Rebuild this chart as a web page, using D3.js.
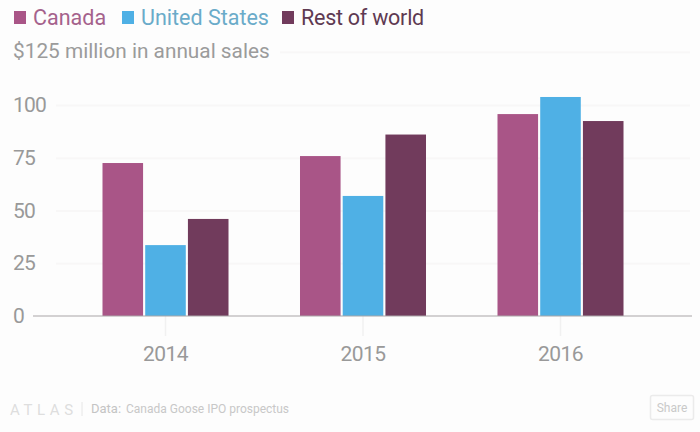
<!DOCTYPE html>
<html>
<head>
<meta charset="utf-8">
<script src="https://cdnjs.cloudflare.com/ajax/libs/d3/7.8.5/d3.min.js"></script>
<style>
  html, body { margin: 0; padding: 0; background: #fdfdfd; }
  svg { display: block; }
  text { font-family: Roboto, "Noto Sans", sans-serif; }
</style>
</head>
<body>
<script>
  var years = ["2014", "2015", "2016"];
  var seriesNames = ["Canada", "United States", "Rest of world"];
  var canada = [72.5, 75.8, 95.7];
  var unitedStates = [33.6, 56.9, 103.8];
  var restOfWorld = [46, 86, 92.4];
  var yTicks = [0, 25, 50, 75, 100];

  var seriesValues = [canada, unitedStates, restOfWorld];
  var barColors = ["#a95587", "#4fb0e5", "#713b5c"];
  var legendText = ["#a5628c", "#6aabc9", "#5f3a52"];

  var width = 700,
    height = 432;

  var svg = d3.select("body").append("svg")
    .attr("width", width)
    .attr("height", height);

  var y = d3.scaleLinear().domain([0, 125]).range([316, 52.25]);

  // one band per year, then one band per series inside it
  var x = d3.scaleBand().domain(years).range([66.75, 659.25]).paddingInner(0.362).paddingOuter(0.181);
  var x1 = d3.scaleBand().domain(seriesNames).range([0, x.bandwidth()]).paddingInner(0.05);

  // y gridlines, with the zero line handled separately
  var yAxis = d3.axisLeft(y)
    .tickValues(yTicks)
    .tickSize(-(690 - 56))
    .tickPadding(6);

  var gy = svg.append("g")
    .attr("transform", "translate(56,0)")
    .call(yAxis);
  gy.select(".domain").remove();
  gy.selectAll("line").attr("stroke", "#f8f7f7").attr("stroke-width", 2);
  gy.selectAll(".tick").filter(function(d) { return d === 0; }).select("line").remove();
  gy.selectAll("text")
    .attr("x", -43)
    .attr("text-anchor", "start")
    .attr("fill", "#999999")
    .style("font-size", "21px")
    .style("letter-spacing", "-0.8px")
    .style("font-family", "Roboto, sans-serif");

  // top gridline sits next to the subtitle
  svg.append("line")
    .attr("x1", 280).attr("x2", 690)
    .attr("y1", y(125)).attr("y2", y(125))
    .attr("stroke", "#f8f7f7").attr("stroke-width", 2);

  // bars
  var groups = svg.selectAll(".year")
    .data(years)
    .enter().append("g")
    .attr("class", "year")
    .attr("transform", function(d) { return "translate(" + x(d) + ",0)"; });

  groups.selectAll("rect")
    .data(function(d, i) {
      return seriesNames.map(function(name, j) {
        return { name: name, value: seriesValues[j][i], color: barColors[j] };
      });
    })
    .enter().append("rect")
    .attr("x", function(d) { return x1(d.name); })
    .attr("y", function(d) { return y(d.value); })
    .attr("width", x1.bandwidth())
    .attr("height", function(d) { return y(0) - y(d.value); })
    .attr("fill", function(d) { return d.color; });

  // x axis
  var xAxis = d3.axisBottom(x).tickSize(20).tickPadding(10);
  var gx = svg.append("g")
    .attr("transform", "translate(0,316)")
    .call(xAxis);
  gx.select(".domain").remove();
  gx.selectAll("line").attr("stroke", "#f1f1f1").attr("stroke-width", 1.5);
  gx.selectAll("text")
    .attr("fill", "#999999")
    .style("font-size", "21px")
    .style("letter-spacing", "-0.6px")
    .style("font-family", "Roboto, sans-serif");

  svg.append("line")
    .attr("x1", 33).attr("x2", 692)
    .attr("y1", y(0)).attr("y2", y(0))
    .attr("stroke", "#aaa6a8").attr("stroke-width", 1.2);

  // legend
  var legendX = [14, 122, 282];
  var legend = svg.selectAll(".legend")
    .data(seriesNames)
    .enter().append("g")
    .attr("class", "legend")
    .attr("transform", function(d, i) { return "translate(" + legendX[i] + ",0)"; });
  legend.append("rect")
    .attr("y", 11).attr("width", 12).attr("height", 13)
    .attr("fill", function(d, i) { return barColors[i]; });
  legend.append("text")
    .attr("x", 19).attr("y", 24.5)
    .attr("fill", function(d, i) { return legendText[i]; })
    .style("font-size", "21.5px")
    .style("letter-spacing", function(d, i) { return i === 2 ? "-0.25px" : "0"; })
    .text(function(d) { return d; });

  // subtitle
  svg.append("text")
    .attr("x", 13).attr("y", 58)
    .attr("fill", "#9b9b9b")
    .style("font-size", "20.8px")
    .text("$125 million in annual sales");

  // footer
  svg.append("text")
    .attr("x", 10).attr("y", 415)
    .attr("fill", "#dedede")
    .style("font-size", "15px")
    .style("letter-spacing", "4.6px")
    .text("ATLAS");
  svg.append("line")
    .attr("x1", 82).attr("x2", 82).attr("y1", 402).attr("y2", 416)
    .attr("stroke", "#e6e6e6");
  svg.append("text")
    .attr("x", 91).attr("y", 413)
    .attr("fill", "#c4c4c4")
    .style("font-size", "13px")
    .text("Data:");
  svg.append("text")
    .attr("x", 126).attr("y", 413)
    .attr("fill", "#c8c8c8")
    .style("font-size", "12px")
    .text("Canada Goose IPO prospectus");

  // share button
  svg.append("rect")
    .attr("x", 650.5).attr("y", 395.5).attr("width", 43).attr("height", 24).attr("rx", 2)
    .attr("fill", "none").attr("stroke", "#ebebeb").attr("stroke-width", 1.5);
  svg.append("text")
    .attr("x", 672).attr("y", 412)
    .attr("text-anchor", "middle")
    .attr("fill", "#c9c9c9")
    .style("font-size", "12px")
    .text("Share");
</script>
</body>
</html>
